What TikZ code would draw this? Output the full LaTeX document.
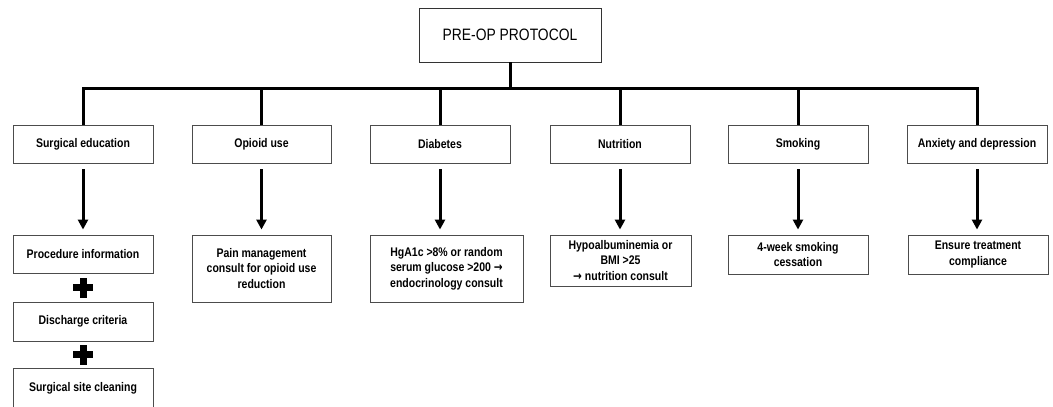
\documentclass[tikz,border=0pt]{standalone}
\usepackage{fontspec}
\setmainfont[FakeStretch=0.84]{Liberation Sans}
\newfontfamily\arrfont[FakeStretch=0.84]{DejaVu Sans}
\newcommand{\rarr}{{\arrfont\bfseries →}}
\usetikzlibrary{arrows.meta,calc}
\begin{document}
\begin{tikzpicture}[x=1pt,y=-1pt,
  box/.style={draw=black!70,line width=0.9pt,fill=white,rectangle,inner sep=0pt,align=center,
    font=\fontsize{12.5}{15.5}\selectfont\bfseries},
  bus/.style={line width=3pt,black},
  arr/.style={line width=3pt,black,-{Triangle[width=10pt,length=10pt]},shorten <=6pt,shorten >=5pt},
]
\useasboundingbox (0,0) rectangle (1053,407);
\fill[white] (0,0) rectangle (1053,407);
% top
\node[box,font=\fontsize{16.5}{18}\selectfont,minimum width=182pt,minimum height=54pt,draw=black!80] (top) at (510,35) {PRE-OP PROTOCOL};
% level 1
\node[box,minimum width=140pt,minimum height=38pt] (b1) at (83,144) {Surgical education};
\node[box,minimum width=139pt,minimum height=38pt] (b2) at (261.5,144) {Opioid use};
\node[box,minimum width=140pt,minimum height=38pt] (b3) at (440,144) {Diabetes};
\node[box,minimum width=140pt,minimum height=38pt] (b4) at (620,144) {Nutrition};
\node[box,minimum width=140pt,minimum height=38pt] (b5) at (798,144) {Smoking};
\node[box,minimum width=140pt,minimum height=38pt] (b6) at (977,144) {Anxiety and depression};
% bus
\coordinate (busy) at (510,88);
\draw[bus] (top.south) -- (busy);
\draw[bus,line cap=rect] (b1.north |- busy) -- (b6.north |- busy);
\foreach \n in {b1,b2,b3,b4,b5,b6}{\draw[bus] (\n.north |- busy) -- (\n.north);}
% level 2
\node[box,minimum width=140pt,minimum height=38pt] (c1) at (83,254) {Procedure information};
\node[box,minimum width=139pt,minimum height=67pt] (c2) at (261.5,268.5) {Pain management\\consult for opioid use\\reduction};
\node[box,minimum width=153pt,minimum height=67pt] (c3) at (446.5,268.5) {HgA1c >8\% or random\\serum glucose >200 \rarr\\endocrinology consult};
\node[box,minimum width=141pt,minimum height=51pt] (c4) at (620.5,260.5) {Hypoalbuminemia or\\BMI >25\\\rarr{} nutrition consult};
\node[box,minimum width=140pt,minimum height=39pt] (c5) at (798,254.5) {4-week smoking\\cessation};
\node[box,minimum width=140pt,minimum height=39pt] (c6) at (978,254.5) {Ensure treatment\\compliance};
\node[box,minimum width=140pt,minimum height=39pt] (d1) at (83,321.5) {Discharge criteria};
\node[box,minimum width=140pt,minimum height=40pt] (e1) at (83,388) {Surgical site cleaning};
% arrows
\draw[arr] (b1.south) -- (b1.south |- c1.north);
\draw[arr] (b2.south) -- (b2.south |- c2.north);
\draw[arr] (b3.south) -- (b3.south |- c3.north);
\draw[arr] (b4.south) -- (b4.south |- c4.north);
\draw[arr] (b5.south) -- (b5.south |- c5.north);
\draw[arr] (b6.south) -- (b6.south |- c6.north);
% plus signs
\coordinate (p1) at ($(c1.south)!0.5!(d1.north)$);
\coordinate (p2) at ($(d1.south)!0.5!(e1.north)$);
\foreach \p in {p1,p2}{
  \fill[black] ($(\p)+(-3.5,-10)$) rectangle ($(\p)+(3.5,10)$);
  \fill[black] ($(\p)+(-10,-3.5)$) rectangle ($(\p)+(10,3.5)$);
}
\end{tikzpicture}
\end{document}
